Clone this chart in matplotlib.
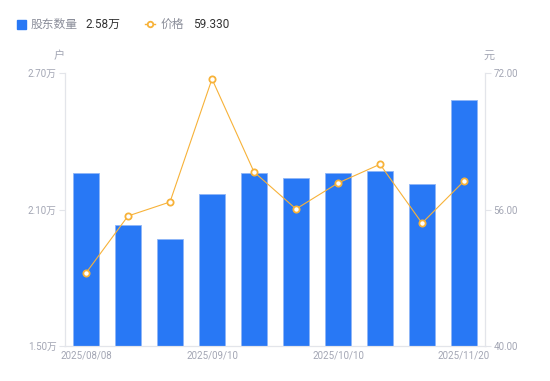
import matplotlib
matplotlib.use('Agg')
import matplotlib.pyplot as plt
import numpy as np

plt.rcParams['font.family'] = ['Roboto', 'Noto Sans CJK SC', 'DejaVu Sans']

# data
dates = ['2025/08/08', '2025/08/20', '2025/08/29', '2025/09/10', '2025/09/19',
         '2025/09/30', '2025/10/10', '2025/10/20', '2025/10/31', '2025/11/20']
holders = [2.26, 2.03, 1.97, 2.17, 2.26, 2.24, 2.26, 2.27, 2.21, 2.58]  # 万户
price = [48.56, 55.24, 56.88, 71.3, 60.4, 56.06, 59.1, 61.3, 54.4, 59.33]

left_ticks = [1.50, 2.10, 2.70]
right_ticks = [40.0, 56.0, 72.0]

blue = '#2878f5'
orange = '#f7b239'
grey_txt = '#a3a6b4'
axis_col = '#e3e5ea'

fig = plt.figure(figsize=(5.5, 3.81), dpi=100)
ax = fig.add_axes([65 / 550, 1 - 346 / 381, 420 / 550, 273 / 381])
ax2 = ax.twinx()

x = np.arange(len(dates))
ax.bar(x, holders, width=0.6, color=blue, edgecolor='#8fb6f7', linewidth=0.6, zorder=2)
ax.set_xlim(-0.5, len(dates) - 0.5)
ax.set_ylim(left_ticks[0], left_ticks[-1])
ax.set_yticks(left_ticks)
ax.set_yticklabels([f'{v:.2f}万' for v in left_ticks])

ax2.plot(x, price, color=orange, linewidth=0.8, marker='o', markersize=4.5,
         markerfacecolor='white', markeredgecolor=orange, markeredgewidth=1.3, zorder=3)
ax2.set_ylim(right_ticks[0], right_ticks[-1])
ax2.set_yticks(right_ticks)
ax2.set_yticklabels([f'{v:.2f}' for v in right_ticks])

ax.set_xticks(x[::3])
ax.set_xticklabels(dates[::3])

for a in (ax, ax2):
    for s in a.spines.values():
        s.set_color(axis_col)
        s.set_linewidth(0.8)
    a.spines['top'].set_visible(False)
    a.tick_params(axis='both', colors=axis_col, labelcolor=grey_txt, labelsize=7, length=4, width=0.8)
ax.tick_params(axis='x', length=0, pad=3)
ax.tick_params(axis='y', pad=2)
ax2.tick_params(axis='y', pad=2)

# unit labels
fig.text(59 / 550, 1 - 56 / 381, '户', color=grey_txt, fontsize=8, ha='center', va='center')
fig.text(489 / 550, 1 - 56 / 381, '元', color=grey_txt, fontsize=8, ha='center', va='center')

# legend header
fig.patches.append(plt.Rectangle((17 / 550, 1 - 29 / 381), 9 / 550, 9 / 381,
                                 transform=fig.transFigure, color=blue, figure=fig))
fig.text(31 / 550, 1 - 24 / 381, '股东数量', color='#8a8d99', fontsize=8.5, va='center')
fig.text(85 / 550, 1 - 24 / 381, '2.58万', color='#333333', fontsize=8.5, va='center')
fig.lines.append(plt.Line2D([145 / 550, 150 / 550, 155 / 550], [1 - 24 / 381] * 3,
                            transform=fig.transFigure, color=orange, linewidth=1,
                            marker='o', markersize=4, markevery=[1],
                            markerfacecolor='white', markeredgecolor=orange,
                            markeredgewidth=1.3))
fig.text(161 / 550, 1 - 24 / 381, '价格', color='#8a8d99', fontsize=8.5, va='center')
fig.text(193 / 550, 1 - 24 / 381, '59.330', color='#333333', fontsize=8.5, va='center')

fig.savefig('out.png', dpi=100)
